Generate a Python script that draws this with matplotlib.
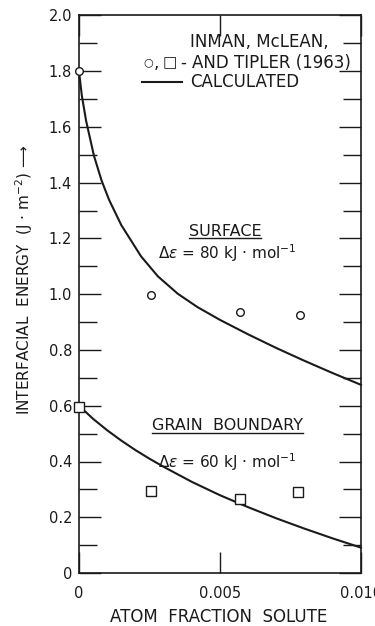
import matplotlib
matplotlib.use("Agg")
import matplotlib.pyplot as plt
from matplotlib.lines import Line2D

# ---- data ----
surf_curve_x = [0, 0.0001, 0.00025, 0.00053, 0.0008, 0.00107, 0.0015, 0.0022, 0.0028,
                0.0035, 0.0042, 0.005, 0.006, 0.007, 0.008, 0.009, 0.010]
surf_curve_y = [1.80, 1.713, 1.623, 1.497, 1.408, 1.338, 1.248, 1.136, 1.064,
                1.002, 0.954, 0.908, 0.856, 0.807, 0.761, 0.717, 0.675]

gb_curve_x = [0, 0.0005, 0.001, 0.0015, 0.002, 0.0025, 0.003, 0.004, 0.005,
              0.006, 0.007, 0.008, 0.009, 0.010]
gb_curve_y = [0.600, 0.553, 0.512, 0.475, 0.441, 0.410, 0.381, 0.327, 0.279,
              0.236, 0.196, 0.159, 0.124, 0.091]

surf_exp_x = [0, 0.00257, 0.00572, 0.00785]
surf_exp_y = [1.80, 0.998, 0.936, 0.926]

gb_exp_x = [0, 0.00257, 0.0057, 0.00775]
gb_exp_y = [0.597, 0.294, 0.266, 0.292]

x_ticks = [0, 0.005, 0.010]
x_ticklabels = ["0", "0.005", "0.010"]
y_ticks = [0, 0.2, 0.4, 0.6, 0.8, 1.0, 1.2, 1.4, 1.6, 1.8, 2.0]
y_ticklabels = ["0", "0.2", "0.4", "0.6", "0.8", "1.0", "1.2", "1.4", "1.6", "1.8", "2.0"]
y_minor = [0.1, 0.3, 0.5, 0.7, 0.9, 1.1, 1.3, 1.5, 1.7, 1.9]

INK = "#1a1a1a"
W, H = 375, 626

plt.rcParams['font.family'] = ['DejaVu Sans']
fig = plt.figure(figsize=(W / 100, H / 100), dpi=100)
fig.patch.set_facecolor("white")

def fx(px):
    return px / W

def fy(py):
    return 1 - py / H

ax = fig.add_axes([fx(79), fy(573), (361 - 79) / W, (573 - 15.5) / H])
ax.set_xlim(0, 0.010)
ax.set_ylim(0, 2.0)

ax.plot(surf_curve_x, surf_curve_y, color=INK, lw=1.5, clip_on=False, zorder=3,
        solid_joinstyle="round")
ax.plot(gb_curve_x, gb_curve_y, color=INK, lw=1.5, clip_on=False, zorder=3,
        solid_joinstyle="round")
ax.plot(surf_exp_x, surf_exp_y, linestyle="none", marker="o", ms=5.5, mfc="white",
        mec=INK, mew=1.0, clip_on=False, zorder=4)
ax.plot(gb_exp_x, gb_exp_y, linestyle="none", marker="s", ms=7.0, mfc="white",
        mec=INK, mew=1.0, clip_on=False, zorder=4)

for s in ax.spines.values():
    s.set_color(INK)
    s.set_linewidth(1.2)

ax.set_xticks(x_ticks)
ax.set_xticklabels(x_ticklabels)
ax.set_yticks(y_ticks)
ax.set_yticklabels(y_ticklabels)
ax.set_yticks(y_minor, minor=True)
ax.tick_params(axis="both", which="both", direction="in", colors=INK, width=1.0,
               labelsize=10.5)
ax.tick_params(axis="y", which="major", length=16, left=True, right=True, pad=5)
ax.tick_params(axis="y", which="minor", length=13, left=True, right=True)
ax.tick_params(axis="x", which="major", length=15, top=True, bottom=True, pad=9)

# axis labels
fig.text(fx(219), fy(617), "ATOM  FRACTION  SOLUTE", ha="center", va="center",
         fontsize=12, color=INK)
fig.text(fx(24), fy(280), "INTERFACIAL  ENERGY  (J · m$^{-2}$) ⟶", ha="center",
         va="center", rotation=90, fontsize=11, color=INK)

# legend
LFS = 12
fig.text(fx(190), fy(42), "INMAN, McLEAN,", ha="left", va="center", fontsize=LFS, color=INK)
fig.text(fx(148), fy(62), "○", ha="center", va="center", fontsize=8, color=INK)
fig.text(fx(156), fy(63), ",", ha="center", va="center", fontsize=LFS, color=INK)
fig.text(fx(170), fy(63), "□", ha="center", va="center", fontsize=11, color=INK)
fig.text(fx(183), fy(63), "-", ha="center", va="center", fontsize=LFS, color=INK)
fig.text(fx(192), fy(63), "AND TIPLER (1963)", ha="left", va="center", fontsize=LFS, color=INK)
fig.add_artist(Line2D([fx(142), fx(182)], [fy(82), fy(82)], color=INK, lw=1.5))
fig.text(fx(190), fy(82), "CALCULATED", ha="left", va="center", fontsize=LFS, color=INK)

# annotations
t1 = fig.text(fx(225), fy(232), "SURFACE", ha="center", va="center", fontsize=11.5, color=INK)
fig.text(fx(227), fy(253), r"$\Delta\epsilon$ = 80 kJ · mol$^{-1}$", ha="center",
         va="center", fontsize=11, color=INK)
t2 = fig.text(fx(227.5), fy(425), "GRAIN  BOUNDARY", ha="center", va="center",
              fontsize=11.5, color=INK)
fig.text(fx(227), fy(462), r"$\Delta\epsilon$ = 60 kJ · mol$^{-1}$", ha="center",
         va="center", fontsize=11, color=INK)

fig.canvas.draw()
r = fig.canvas.get_renderer()
for t, uy in ((t1, 238), (t2, 433)):
    bb = t.get_window_extent(renderer=r)
    fig.add_artist(Line2D([bb.x0 / W, bb.x1 / W], [fy(uy), fy(uy)], color=INK, lw=1.0))

fig.savefig("out.png", dpi=100, facecolor="white")
